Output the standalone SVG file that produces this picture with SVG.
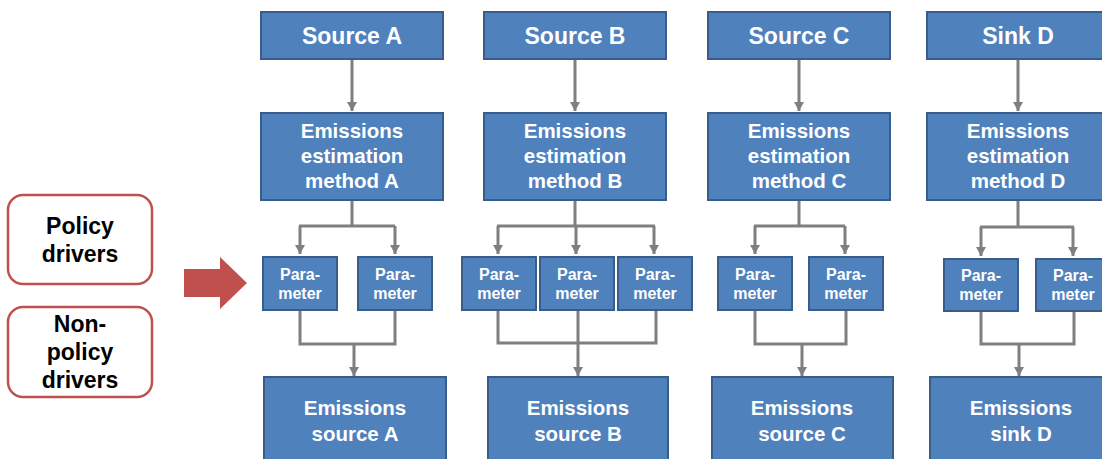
<svg xmlns="http://www.w3.org/2000/svg" width="1102" height="459" viewBox="0 0 1102 459">
  <style>
    .box { fill: #4f81bd; stroke: #385d8a; stroke-width: 2; }
    .drv { fill: #ffffff; stroke: #c0504d; stroke-width: 2.5; }
    .t { font-family: "Liberation Sans", Arial, sans-serif; font-weight: bold; text-anchor: middle; fill: #ffffff; }
    .dk { fill: #000000; font-size: 23px; }
    .h { font-size: 23px; }
    .m { font-size: 20.5px; }
    .p { font-size: 16px; }
    .c { fill: none; stroke: #7f7f7f; stroke-width: 3; }
    .a { marker-end: url(#head); }
  </style>
  <defs>
    <marker id="head" viewBox="0 0 9 10" refX="9" refY="5" markerWidth="9" markerHeight="10" markerUnits="userSpaceOnUse" orient="auto">
      <path d="M0,0 L9,5 L0,10 z" fill="#7f7f7f"/>
    </marker>
  </defs>

  <rect width="1102" height="459" fill="#ffffff"/>

  <!-- driver boxes -->
  <g id="policy-drivers">
    <rect class="drv" x="8" y="195" width="144" height="89" rx="15"/>
    <text class="t dk" x="80" y="234">Policy</text>
    <text class="t dk" x="80" y="262">drivers</text>
  </g>
  <g id="non-policy-drivers">
    <rect class="drv" x="8" y="307" width="144" height="90" rx="15"/>
    <text class="t dk" x="80" y="332">Non-</text>
    <text class="t dk" x="80" y="360">policy</text>
    <text class="t dk" x="80" y="388">drivers</text>
  </g>
  <g id="driver-arrow">
    <path d="M184,269 L220,269 L220,257 L247,283 L220,309 L220,297 L184,297 z" fill="#c0504d"/>
  </g>

  <!-- connectors -->
  <g id="connectors">
    <!-- column A -->
    <path class="c a" d="M352,59 V111"/>
    <path class="c" d="M352,200 V226 M299,226 H395"/>
    <path class="c a" d="M300,226 V254"/>
    <path class="c a" d="M395,226 V254"/>
    <path class="c" d="M300,310 V344 H395 V310"/>
    <path class="c a" d="M354,344 V376"/>
    <!-- column B -->
    <path class="c a" d="M575,59 V111"/>
    <path class="c" d="M575,200 V226 M497,226 H655"/>
    <path class="c a" d="M498,226 V254"/>
    <path class="c a" d="M576,226 V254"/>
    <path class="c a" d="M654,226 V254"/>
    <path class="c" d="M498,310 V343 H656 V310 M578,310 V343"/>
    <path class="c a" d="M578,343 V376"/>
    <!-- column C -->
    <path class="c a" d="M799,59 V111"/>
    <path class="c" d="M799,200 V226 M754,226 H845"/>
    <path class="c a" d="M755,226 V254"/>
    <path class="c a" d="M845,226 V254"/>
    <path class="c" d="M755,310 V344 H846 V310"/>
    <path class="c a" d="M802,344 V376"/>
    <!-- column D -->
    <path class="c a" d="M1018,59 V111"/>
    <path class="c" d="M1018,200 V227 M980,227 H1074"/>
    <path class="c a" d="M981,227 V256"/>
    <path class="c a" d="M1073,227 V256"/>
    <path class="c" d="M981,311 V344 H1074 V311"/>
    <path class="c a" d="M1019,344 V376"/>
  </g>

  <!-- column A -->
  <g id="source-a">
    <rect class="box" x="261" y="12" width="182" height="47"/>
    <text class="t h" x="352" y="44">Source A</text>
  </g>
  <g id="method-a">
    <rect class="box" x="261" y="113" width="182" height="87"/>
    <text class="t m" x="352" y="138">Emissions</text>
    <text class="t m" x="352" y="163">estimation</text>
    <text class="t m" x="352" y="188">method A</text>
  </g>
  <g id="param-a1">
    <rect class="box" x="263" y="257" width="74" height="53"/>
    <text class="t p" x="300" y="280">Para-</text>
    <text class="t p" x="300" y="299">meter</text>
  </g>
  <g id="param-a2">
    <rect class="box" x="358" y="257" width="74" height="53"/>
    <text class="t p" x="395" y="280">Para-</text>
    <text class="t p" x="395" y="299">meter</text>
  </g>
  <g id="emissions-source-a">
    <rect class="box" x="264" y="377" width="182" height="90"/>
    <text class="t m" x="355" y="415">Emissions</text>
    <text class="t m" x="355" y="441">source A</text>
  </g>

  <!-- column B -->
  <g id="source-b">
    <rect class="box" x="484" y="12" width="182" height="47"/>
    <text class="t h" x="575" y="44">Source B</text>
  </g>
  <g id="method-b">
    <rect class="box" x="484" y="113" width="182" height="87"/>
    <text class="t m" x="575" y="138">Emissions</text>
    <text class="t m" x="575" y="163">estimation</text>
    <text class="t m" x="575" y="188">method B</text>
  </g>
  <g id="param-b1">
    <rect class="box" x="462" y="257" width="74" height="53"/>
    <text class="t p" x="499" y="280">Para-</text>
    <text class="t p" x="499" y="299">meter</text>
  </g>
  <g id="param-b2">
    <rect class="box" x="540" y="257" width="74" height="53"/>
    <text class="t p" x="577" y="280">Para-</text>
    <text class="t p" x="577" y="299">meter</text>
  </g>
  <g id="param-b3">
    <rect class="box" x="618" y="257" width="74" height="53"/>
    <text class="t p" x="655" y="280">Para-</text>
    <text class="t p" x="655" y="299">meter</text>
  </g>
  <g id="emissions-source-b">
    <rect class="box" x="488" y="377" width="180" height="90"/>
    <text class="t m" x="578" y="415">Emissions</text>
    <text class="t m" x="578" y="441">source B</text>
  </g>

  <!-- column C -->
  <g id="source-c">
    <rect class="box" x="708" y="12" width="182" height="47"/>
    <text class="t h" x="799" y="44">Source C</text>
  </g>
  <g id="method-c">
    <rect class="box" x="708" y="113" width="182" height="87"/>
    <text class="t m" x="799" y="138">Emissions</text>
    <text class="t m" x="799" y="163">estimation</text>
    <text class="t m" x="799" y="188">method C</text>
  </g>
  <g id="param-c1">
    <rect class="box" x="718" y="257" width="74" height="53"/>
    <text class="t p" x="755" y="280">Para-</text>
    <text class="t p" x="755" y="299">meter</text>
  </g>
  <g id="param-c2">
    <rect class="box" x="809" y="257" width="74" height="53"/>
    <text class="t p" x="846" y="280">Para-</text>
    <text class="t p" x="846" y="299">meter</text>
  </g>
  <g id="emissions-source-c">
    <rect class="box" x="712" y="377" width="181" height="90"/>
    <text class="t m" x="802" y="415">Emissions</text>
    <text class="t m" x="802" y="441">source C</text>
  </g>

  <!-- column D -->
  <g id="sink-d">
    <rect class="box" x="927" y="12" width="182" height="47"/>
    <text class="t h" x="1018" y="44">Sink D</text>
  </g>
  <g id="method-d">
    <rect class="box" x="927" y="113" width="182" height="87"/>
    <text class="t m" x="1018" y="138">Emissions</text>
    <text class="t m" x="1018" y="163">estimation</text>
    <text class="t m" x="1018" y="188">method D</text>
  </g>
  <g id="param-d1">
    <rect class="box" x="944" y="259" width="74" height="52"/>
    <text class="t p" x="981" y="281">Para-</text>
    <text class="t p" x="981" y="300">meter</text>
  </g>
  <g id="param-d2">
    <rect class="box" x="1036" y="259" width="74" height="52"/>
    <text class="t p" x="1073" y="281">Para-</text>
    <text class="t p" x="1073" y="300">meter</text>
  </g>
  <g id="emissions-sink-d">
    <rect class="box" x="930" y="377" width="182" height="90"/>
    <text class="t m" x="1021" y="415">Emissions</text>
    <text class="t m" x="1021" y="441">sink D</text>
  </g>
</svg>
